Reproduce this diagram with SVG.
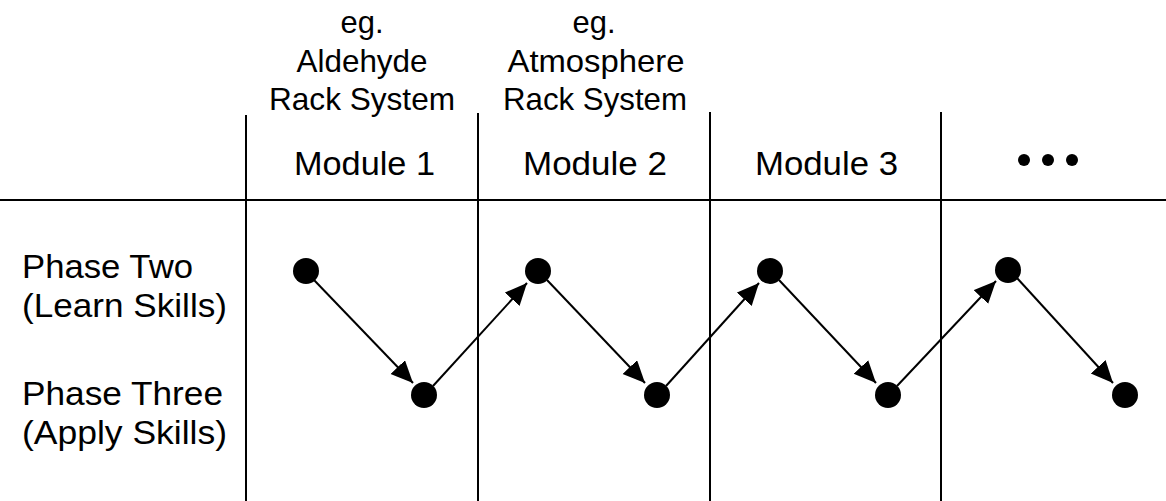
<svg xmlns="http://www.w3.org/2000/svg" width="1166" height="501" viewBox="0 0 1166 501">
<defs>
<style>
text{font-family:"Liberation Sans",Arial,sans-serif;fill:#000}
.h{font-size:32px;text-anchor:middle}
.m{font-size:34px}
.p{font-size:33px}
.grid{stroke:#000;stroke-width:2;fill:none}
.conn{stroke:#000;stroke-width:2;fill:none;marker-end:url(#ah)}
.dot{fill:#000}
</style>
<marker id="ah" markerUnits="userSpaceOnUse" markerWidth="24" markerHeight="22" refX="22" refY="10" orient="auto">
<path d="M0,0 L22,10 L0,20 Z" fill="#000"/>
</marker>
</defs>
<rect width="1166" height="501" fill="#fff"/>
<g id="grid">
<line class="grid" x1="0" y1="200" x2="1166" y2="200"/>
<line class="grid" x1="246" y1="115" x2="246" y2="501"/>
<line class="grid" x1="478" y1="113" x2="478" y2="501"/>
<line class="grid" x1="710" y1="112" x2="710" y2="501"/>
<line class="grid" x1="941" y1="112" x2="941" y2="501"/>
</g>
<g id="header1">
<text class="h" x="362" y="33" textLength="43" lengthAdjust="spacingAndGlyphs">eg.</text>
<text class="h" x="362" y="72" textLength="131" lengthAdjust="spacingAndGlyphs">Aldehyde</text>
<text class="h" x="362" y="110" textLength="186" lengthAdjust="spacingAndGlyphs">Rack System</text>
</g>
<g id="header2">
<text class="h" x="594" y="33" textLength="43" lengthAdjust="spacingAndGlyphs">eg.</text>
<text class="h" x="596" y="72" textLength="177" lengthAdjust="spacingAndGlyphs">Atmosphere</text>
<text class="h" x="595" y="110" textLength="184" lengthAdjust="spacingAndGlyphs">Rack System</text>
</g>
<g id="module1"><text class="m" x="294" y="175" textLength="141" lengthAdjust="spacingAndGlyphs">Module 1</text></g>
<g id="module2"><text class="m" x="523" y="175" textLength="144" lengthAdjust="spacingAndGlyphs">Module 2</text></g>
<g id="module3"><text class="m" x="755" y="175" textLength="143" lengthAdjust="spacingAndGlyphs">Module 3</text></g>
<g id="ellipsis">
<circle class="dot" cx="1024" cy="160" r="6"/>
<circle class="dot" cx="1048" cy="160" r="6"/>
<circle class="dot" cx="1072" cy="160" r="6"/>
</g>
<g id="phase-two">
<text class="p" x="22" y="278" textLength="171" lengthAdjust="spacingAndGlyphs">Phase Two</text>
<text class="p" x="22" y="317" textLength="205" lengthAdjust="spacingAndGlyphs">(Learn Skills)</text>
</g>
<g id="phase-three">
<text class="p" x="22" y="405" textLength="201" lengthAdjust="spacingAndGlyphs">Phase Three</text>
<text class="p" x="22" y="444" textLength="205" lengthAdjust="spacingAndGlyphs">(Apply Skills)</text>
</g>
<g id="connectors">
<line class="conn" x1="314" y1="280" x2="413" y2="383"/>
<line class="conn" x1="433" y1="386" x2="527" y2="283"/>
<line class="conn" x1="547" y1="280" x2="645" y2="383"/>
<line class="conn" x1="666" y1="386" x2="759" y2="283"/>
<line class="conn" x1="779" y1="280" x2="876" y2="383"/>
<line class="conn" x1="897" y1="386" x2="996" y2="281"/>
<line class="conn" x1="1017" y1="278" x2="1113" y2="383"/>
</g>
<g id="n1"><circle class="dot" cx="306" cy="271" r="13"/></g>
<g id="n2"><circle class="dot" cx="424" cy="395" r="13"/></g>
<g id="n3"><circle class="dot" cx="538" cy="271" r="13"/></g>
<g id="n4"><circle class="dot" cx="657" cy="395" r="13"/></g>
<g id="n5"><circle class="dot" cx="770" cy="271" r="13"/></g>
<g id="n6"><circle class="dot" cx="888" cy="395" r="13"/></g>
<g id="n7"><circle class="dot" cx="1008" cy="270" r="13"/></g>
<g id="n8"><circle class="dot" cx="1125" cy="395" r="13"/></g>
</svg>
